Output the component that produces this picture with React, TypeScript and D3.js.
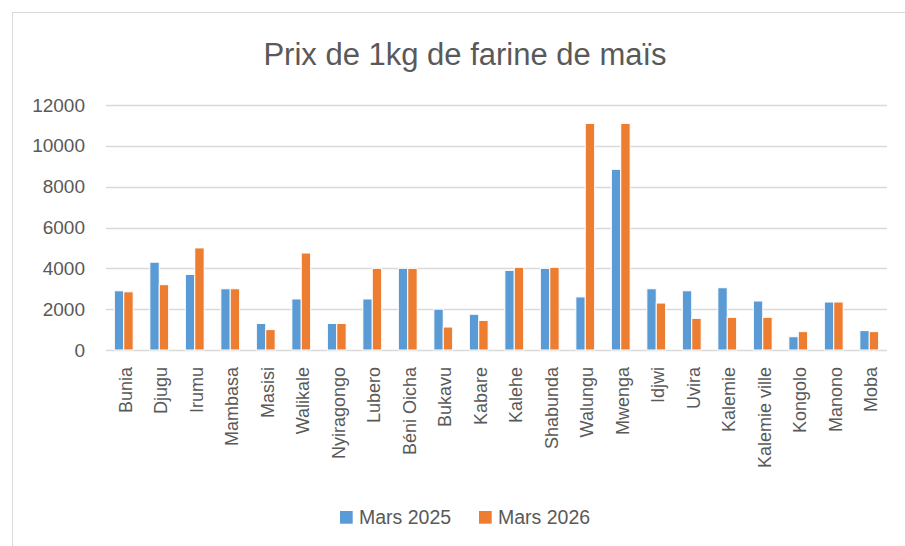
import { useRef, useEffect } from "react";
import * as d3 from "d3";

const categories = [
  "Bunia", "Djugu", "Irumu", "Mambasa", "Masisi", "Walikale", "Nyiragongo",
  "Lubero", "Béni Oicha", "Bukavu", "Kabare", "Kalehe", "Shabunda", "Walungu",
  "Mwenga", "Idjwi", "Uvira", "Kalemie", "Kalemie ville", "Kongolo", "Manono", "Moba",
];
const mars2025 = [2900, 4300, 3700, 3000, 1300, 2500, 1300, 2500, 4000, 2000, 1750, 3900, 4000, 2600, 8850, 3000, 2900, 3050, 2400, 650, 2350, 950];
const mars2026 = [2850, 3200, 5000, 3000, 1000, 4750, 1300, 4000, 4000, 1125, 1450, 4050, 4050, 11100, 11100, 2300, 1550, 1600, 1600, 900, 2350, 900];
const seriesNames = ["Mars 2025", "Mars 2026"];
const colors = ["#5B9BD5", "#ED7D31"];
const yTicks = [0, 2000, 4000, 6000, 8000, 10000, 12000];

const W = 905;
const H = 546;
const textColor = "#595959";
const font = "'Liberation Sans', Arial, sans-serif";

export default function App() {
  const ref = useRef<SVGSVGElement>(null);

  useEffect(() => {
    const svg = d3.select(ref.current);
    svg.selectAll("*").remove();

    // chart frame (runs off the right / bottom edge like the screenshot)
    svg.append("rect")
      .attr("x", 12.5).attr("y", 12.5)
      .attr("width", 920).attr("height", 560)
      .attr("fill", "#fff").attr("stroke", "#d9d9d9");

    const x0 = d3.scaleBand<string>().domain(categories).range([106, 887]);
    const bw = x0.bandwidth();
    const x1 = d3.scaleBand<string>().domain(seriesNames).range([bw * 0.235, bw * 0.765]);
    const y = d3.scaleLinear().domain([0, 12000]).range([350, 105]);

    // gridlines
    svg.append("g")
      .selectAll("line")
      .data(yTicks)
      .join("line")
      .attr("x1", 106).attr("x2", 887)
      .attr("y1", d => Math.round(y(d)) + 0.5)
      .attr("y2", d => Math.round(y(d)) + 0.5)
      .attr("stroke", "#d9d9d9").attr("stroke-width", 1.3);

    // y tick labels
    svg.append("g")
      .selectAll("text")
      .data(yTicks)
      .join("text")
      .attr("x", 85)
      .attr("y", d => y(d))
      .attr("dy", "0.35em")
      .attr("text-anchor", "end")
      .attr("font-family", font).attr("font-size", 19)
      .attr("fill", textColor)
      .text(d => d);

    // bars
    const values = [mars2025, mars2026];
    const groups = svg.append("g")
      .selectAll("g")
      .data(categories)
      .join("g")
      .attr("transform", d => `translate(${x0(d)},0)`);

    groups.selectAll("rect")
      .data((_, i) => seriesNames.map((s, k) => ({ s, k, v: values[k][i] })))
      .join("rect")
      .attr("x", d => x1(d.s)!)
      .attr("y", d => y(d.v))
      .attr("width", x1.bandwidth())
      .attr("height", d => y(0) - y(d.v))
      .attr("fill", d => colors[d.k])
      .attr("stroke", "#fff").attr("stroke-width", 1);

    // category labels (rotated)
    svg.append("g")
      .selectAll("text")
      .data(categories)
      .join("text")
      .attr("transform", d => `translate(${x0(d)! + bw / 2 + 1.5},367) rotate(-90)`)
      .attr("dy", "0.35em")
      .attr("text-anchor", "end")
      .attr("font-family", font).attr("font-size", 18)
      .attr("fill", textColor)
      .text(d => d);

    // title
    svg.append("text")
      .attr("x", 465).attr("y", 65)
      .attr("text-anchor", "middle")
      .attr("font-family", font).attr("font-size", 31)
      .attr("fill", textColor)
      .text("Prix de 1kg de farine de maïs");

    // legend
    const legendX = [340, 479];
    const lg = svg.append("g")
      .selectAll("g")
      .data(seriesNames)
      .join("g")
      .attr("transform", (_, i) => `translate(${legendX[i]},511)`);
    lg.append("rect")
      .attr("width", 12.7).attr("height", 12.7)
      .attr("fill", (_, i) => colors[i]);
    lg.append("text")
      .attr("x", 19).attr("y", 6.5)
      .attr("dy", "0.35em")
      .attr("font-family", font).attr("font-size", 19.5)
      .attr("fill", textColor)
      .text(d => d);
  }, []);

  return (
    <svg
      ref={ref}
      width={W}
      height={H}
      style={{ position: "absolute", left: 0, top: 0, background: "#fff" }}
    />
  );
}
